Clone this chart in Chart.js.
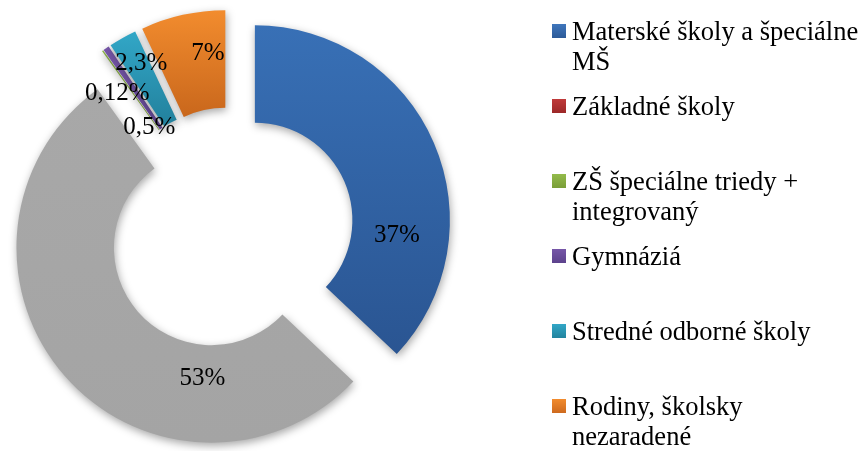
<!DOCTYPE html>
<html>
<head>
<meta charset="utf-8">
<script src="https://cdn.jsdelivr.net/npm/chart.js@4/dist/chart.umd.min.js"></script>
<style>
  html, body { margin: 0; padding: 0; background: #ffffff; }
  #wrap { position: relative; width: 863px; height: 451px; overflow: hidden; }
  #chart { position: absolute; left: 0; top: 0; }
  .item { position: absolute; left: 552px; width: 311px; font-family: "Liberation Serif", "Times New Roman", serif; font-size: 26.5px; line-height: 30px; color: #000; }
  .sw { position: absolute; left: 0; top: 8px; width: 14px; height: 14px; }
  .tx { position: absolute; left: 20px; top: 0; width: 290px; }
</style>
</head>
<body>
<div id="wrap">
  <canvas id="chart" width="863" height="451"></canvas>
  <div id="legend"></div>
</div>
<script>
// ---- data ----
const categories = [
  'Materské školy a špeciálne MŠ',
  'Základné školy',
  'ZŠ špeciálne triedy + integrovaný',
  'Gymnáziá',
  'Stredné odborné školy',
  'Rodiny, školsky nezaradené'
];
const values = [37, 53, 0.12, 0.5, 2.3, 7];
const valueLabels = ['37%', '53%', '0,12%', '0,5%', '2,3%', '7%'];

// ---- styles ----
const sliceColors = [
  ['#3870B6', '#2A5592'],
  ['#A8A8A8', '#A4A4A4'],
  ['#93BB4B', '#7FA23C'],
  ['#7656A8', '#5F448E'],
  ['#32A7C7', '#22809C'],
  ['#F28C2E', '#C9671C']
];
const legendColors = [
  ['#3F76BC', '#2C5A98'],
  ['#C03A3A', '#9C2828'],
  ['#93BB4B', '#7A9E38'],
  ['#7656A8', '#5C428C'],
  ['#32A7C7', '#22849E'],
  ['#F28C2E', '#CE6A1E']
];
const OUTER_R = 195;
const EXPLODE = 26;
// label placement relative to each (exploded) slice: angle from 12 o'clock (deg), radius as share of outer radius
const labelAngle = [96, 184, 319.7, 320.7, 332, 353.5];
const labelRadius = [0.732, 0.673, 0.782, 0.543, 0.841, 0.785];

// ---- legend (HTML) ----
const legendEl = document.getElementById('legend');
categories.forEach((c, i) => {
  const d = document.createElement('div');
  d.className = 'item';
  d.style.top = (16 + 75 * i) + 'px';
  const s = document.createElement('div');
  s.className = 'sw';
  s.style.background = `linear-gradient(${legendColors[i][0]}, ${legendColors[i][1]})`;
  const t = document.createElement('div');
  t.className = 'tx';
  t.textContent = c;
  d.appendChild(s); d.appendChild(t);
  legendEl.appendChild(d);
});

// ---- helpers ----
function sliceBounds(chart, i) {
  const a = chart.chartArea;
  const cx = (a.left + a.right) / 2, cy = (a.top + a.bottom) / 2;
  const total = values.reduce((s, v) => s + v, 0);
  let start = -Math.PI / 2;
  for (let j = 0; j < i; j++) start += values[j] / total * Math.PI * 2;
  const end = start + values[i] / total * Math.PI * 2;
  const mid = (start + end) / 2;
  const oy = cy + Math.sin(mid) * EXPLODE;
  let ymin = Infinity, ymax = -Infinity;
  for (let k = 0; k <= 60; k++) {
    const t = start + (end - start) * k / 60;
    for (const r of [OUTER_R, OUTER_R * 0.5]) {
      const y = oy + Math.sin(t) * r;
      ymin = Math.min(ymin, y); ymax = Math.max(ymax, y);
    }
  }
  return {ymin, ymax};
}

const explodePlugin = {
  id: 'explode',
  afterDatasetUpdate(chart) {
    const meta = chart.getDatasetMeta(0);
    meta.data.forEach(arc => {
      const mid = (arc.startAngle + arc.endAngle) / 2;
      arc.x += Math.cos(mid) * EXPLODE;
      arc.y += Math.sin(mid) * EXPLODE;
    });
  }
};

const shadowPlugin = {
  id: 'softShadow',
  beforeDatasetsDraw(chart) {
    const ctx = chart.ctx;
    ctx.save();
    ctx.shadowColor = 'rgba(0,0,0,0.35)';
    ctx.shadowBlur = 9;
    ctx.shadowOffsetX = 1;
    ctx.shadowOffsetY = 3;
  },
  afterDatasetsDraw(chart) {
    chart.ctx.restore();
  }
};

const labelPlugin = {
  id: 'valueLabels',
  afterDraw(chart) {
    const ctx = chart.ctx;
    const meta = chart.getDatasetMeta(0);
    ctx.save();
    ctx.font = '25px "Liberation Serif", "Times New Roman", serif';
    ctx.fillStyle = '#000';
    ctx.textAlign = 'center';
    ctx.textBaseline = 'middle';
    meta.data.forEach((arc, i) => {
      const ang = (labelAngle[i] - 90) * Math.PI / 180;
      const r = labelRadius[i] * arc.outerRadius;
      ctx.fillText(valueLabels[i], arc.x + Math.cos(ang) * r, arc.y + Math.sin(ang) * r);
    });
    ctx.restore();
  }
};

new Chart(document.getElementById('chart'), {
  type: 'doughnut',
  data: {
    labels: categories,
    datasets: [{
      data: values,
      radius: OUTER_R,
      cutout: '50%',
      borderWidth: 0,
      clip: false,
      backgroundColor: (c) => {
        const chart = c.chart;
        const i = c.dataIndex;
        if (!chart.chartArea) return sliceColors[i][0];
        const b = sliceBounds(chart, i);
        const g = chart.ctx.createLinearGradient(0, b.ymin, 0, b.ymax);
        g.addColorStop(0, sliceColors[i][0]);
        g.addColorStop(1, sliceColors[i][1]);
        return g;
      }
    }]
  },
  options: {
    responsive: false,
    animation: false,
    events: [],
    layout: { padding: { left: 0, right: 401, top: 10, bottom: 0 } },
    plugins: { legend: { display: false }, tooltip: { enabled: false } }
  },
  plugins: [explodePlugin, shadowPlugin, labelPlugin]
});
</script>
</body>
</html>
